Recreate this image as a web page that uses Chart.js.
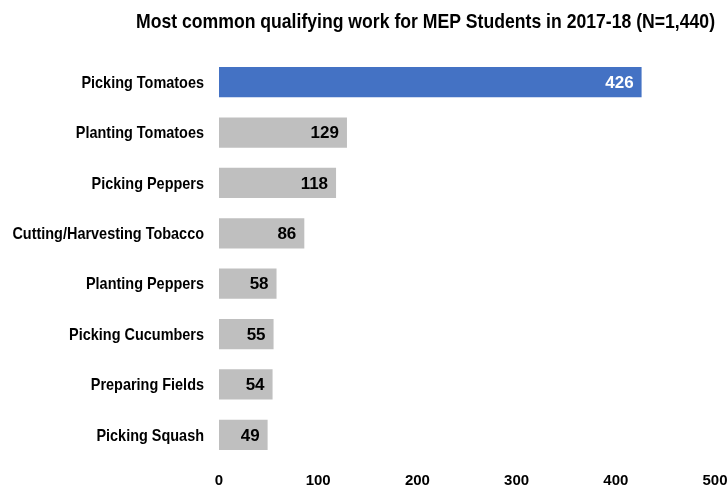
<!DOCTYPE html>
<html>
<head>
<meta charset="utf-8">
<script src="https://cdn.jsdelivr.net/npm/chart.js@4"></script>
<style>
  html, body { margin: 0; padding: 0; background: #fff; }
  #wrap { width: 728px; height: 492px; }
</style>
</head>
<body>
<div id="wrap"><canvas id="c" width="728" height="492"></canvas></div>
<script>
const categories = [
  'Picking Tomatoes', 'Planting Tomatoes', 'Picking Peppers', 'Cutting/Harvesting Tobacco',
  'Planting Peppers', 'Picking Cucumbers', 'Preparing Fields', 'Picking Squash'
];
const studentCounts = [426, 129, 118, 86, 58, 55, 54, 49];
const xTicks = [0, 100, 200, 300, 400, 500];
const titleText = 'Most common qualifying work for MEP Students in 2017-18 (N=1,440)';

const BLUE = '#4472C4';
const GRAY = '#BFBFBF';
const barColors = studentCounts.map((v, i) => i === 0 ? BLUE : GRAY);
const valueColors = studentCounts.map((v, i) => i === 0 ? '#FFFFFF' : '#000000');

// Writes each bar's count just inside its right end
const valueLabels = {
  id: 'valueLabels',
  afterDatasetsDraw(chart) {
    const ctx = chart.ctx;
    const meta = chart.getDatasetMeta(0);
    ctx.save();
    ctx.font = 'bold 17px "Liberation Sans", Arial, sans-serif';
    ctx.textAlign = 'right';
    ctx.textBaseline = 'middle';
    meta.data.forEach((bar, i) => {
      ctx.fillStyle = valueColors[i];
      ctx.fillText(String(studentCounts[i]), bar.x - 8, bar.y + 1);
    });
    ctx.restore();
  }
};

// Condensed bold category names, right-aligned beside the bars
const condensedCategoryLabels = {
  id: 'condensedCategoryLabels',
  afterDraw(chart) {
    const ctx = chart.ctx;
    const yScale = chart.scales.y;
    const right = yScale.right - 15;
    ctx.save();
    ctx.font = 'bold 17px "Liberation Sans", Arial, sans-serif';
    ctx.fillStyle = '#000';
    ctx.textAlign = 'right';
    ctx.textBaseline = 'middle';
    categories.forEach((name, i) => {
      const y = yScale.getPixelForTick(i);
      ctx.save();
      ctx.translate(right, y + 1);
      ctx.scale(0.85, 1);
      ctx.fillText(name, 0, 0);
      ctx.restore();
    });
    ctx.restore();
  }
};

// Condensed bold heading, right-aligned to the plot area's right edge
const condensedTitle = {
  id: 'condensedTitle',
  afterDraw(chart) {
    const ctx = chart.ctx;
    const right = chart.chartArea.right;
    const targetWidth = 579;
    ctx.save();
    ctx.font = 'bold 21px "Liberation Sans", Arial, sans-serif';
    ctx.fillStyle = '#000';
    ctx.textBaseline = 'middle';
    ctx.textAlign = 'left';
    const w = ctx.measureText(titleText).width;
    const sx = targetWidth / w;
    ctx.translate(right - targetWidth, 22);
    ctx.scale(sx, 1);
    ctx.fillText(titleText, 0, 0);
    ctx.restore();
  }
};

new Chart(document.getElementById('c'), {
  type: 'bar',
  data: {
    labels: categories,
    datasets: [{
      data: studentCounts,
      backgroundColor: barColors,
      borderWidth: 0,
      categoryPercentage: 1,
      barPercentage: 0.6
    }]
  },
  options: {
    indexAxis: 'y',
    responsive: false,
    animation: false,
    devicePixelRatio: 1,
    layout: { padding: { top: 57, right: 13, bottom: 0, left: 0 } },
    plugins: {
      legend: { display: false },
      tooltip: { enabled: false },
      title: { display: false }
    },
    scales: {
      x: {
        min: 0,
        max: 500,
        afterBuildTicks(scale) { scale.ticks = xTicks.map(v => ({ value: v })); },
        afterFit(scale) { scale.paddingLeft = 0; scale.paddingRight = 0; scale.height = 32; },
        grid: { display: false, drawTicks: false },
        border: { display: false },
        ticks: {
          padding: 12,
          maxRotation: 0,
          color: '#000',
          font: { family: '"Liberation Sans", Arial, sans-serif', size: 15, weight: 'bold' }
        }
      },
      y: {
        afterFit(scale) { scale.width = 219; },
        grid: { display: false, drawTicks: false },
        border: { display: false },
        ticks: { display: false }
      }
    }
  },
  plugins: [valueLabels, condensedCategoryLabels, condensedTitle]
});
</script>
</body>
</html>
